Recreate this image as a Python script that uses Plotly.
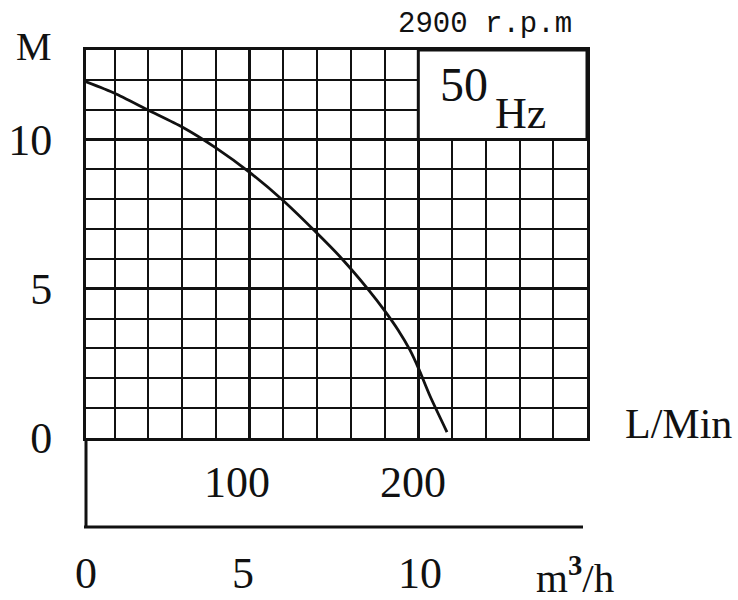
import plotly.graph_objects as go

# ---- data ----
flow_m3h = [0, 1, 2, 3, 4, 5, 6, 7, 7.7, 8.5, 9, 9.4, 9.75, 10, 10.35, 10.85]
head_m = [12.0, 11.55, 10.98, 10.42, 9.72, 8.9, 7.95, 6.86, 6.05, 5.0, 4.27, 3.62, 2.95, 2.35, 1.4, 0.2]

head_ticks = [0, 5, 10]
m3h_ticks = [0, 5, 10]
lpm_ticks = [100, 200]
speed_label = "2900 r.p.m"
freq_value = "50"
freq_unit = "Hz"

# ---- geometry ----
W, H = 738, 600
L, R, T, B = 86, 587, 50, 438
PW, PH = R - L, B - T
X_RANGE = [0.15, 15]
Y_RANGE = [0, 13]

def py(p):  # pixel y -> paper y
    return (B - p) / PH

def px(p):  # pixel x -> paper x
    return (p - L) / PW

def xval_paper(v):  # x data value -> paper x
    return (v - X_RANGE[0]) / (X_RANGE[1] - X_RANGE[0])

SERIF = "Liberation Serif, Times New Roman, serif"
MONO = "Liberation Mono, Courier New, monospace"
INK = "#111111"

fig = go.Figure()
fig.add_trace(go.Scatter(
    x=flow_m3h, y=head_m, mode="lines",
    line=dict(color=INK, width=2.8, shape="spline", smoothing=0.6),
    hoverinfo="skip", showlegend=False, cliponaxis=True,
))

axis_common = dict(
    showline=True, linecolor=INK, linewidth=3, mirror=True,
    zeroline=False, showgrid=True, gridcolor=INK, gridwidth=3,
    minor=dict(dtick=1, tick0=0, showgrid=True, gridcolor=INK, gridwidth=1.6),
    fixedrange=True, automargin=False,
)

fig.update_xaxes(range=X_RANGE, dtick=5, tick0=0, showticklabels=False, ticks="", **axis_common)
fig.update_yaxes(range=Y_RANGE, tickmode="array", tickvals=head_ticks,
                 ticktext=[str(v) for v in head_ticks],
                 ticks="outside", ticklen=22, tickcolor="rgba(0,0,0,0)",
                 tickfont=dict(family=SERIF, size=44, color=INK), **axis_common)

shapes = [
    # 50 Hz box covering the grid in the upper right
    dict(type="rect", xref="x", yref="y", x0=10, x1=15, y0=10, y1=13,
         fillcolor="white", line=dict(color=INK, width=3), layer="above"),
    # lower band (flow scale) : left extension and bottom line
    dict(type="line", xref="paper", yref="paper", x0=0, x1=0, y0=0, y1=py(527),
         line=dict(color=INK, width=3)),
    dict(type="line", xref="paper", yref="paper", x0=px(84), x1=px(583), y0=py(527), y1=py(527),
         line=dict(color=INK, width=3)),
]

ann = []
def text(x, y, s, size, family=SERIF, **kw):
    ann.append(dict(x=x, y=y, xref="paper", yref="paper", text=s, showarrow=False,
                    xanchor="center", yanchor="middle",
                    font=dict(family=family, size=size, color=INK), **kw))

text(px(34), py(46), "M", 40)
text(px(485), py(24), speed_label, 29, family=MONO)
text(px(464), py(84), freq_value, 48)
text(px(520), py(114), freq_unit, 44)
text(px(678), py(424), "L/Min", 42)
for v, pos, sh in zip(lpm_ticks, [5, 10], [-13, -5]):
    text(xval_paper(pos), py(482), str(v), 44, xshift=sh)
for v, sh in zip(m3h_ticks, [5, -7, 2]):
    text(xval_paper(v), py(573), str(v), 44, xshift=sh)
text(px(575), py(575), "m<sup><b>3</b></sup>/h", 41)

fig.update_layout(
    width=W, height=H,
    margin=dict(l=L, r=W - R, t=T, b=H - B, pad=0, autoexpand=False),
    paper_bgcolor="white", plot_bgcolor="white",
    shapes=shapes, annotations=ann, showlegend=False,
)

fig.write_html("out.html", config={"displayModeBar": False},
               post_script="document.body.style.margin='0';document.body.style.overflow='hidden';")
